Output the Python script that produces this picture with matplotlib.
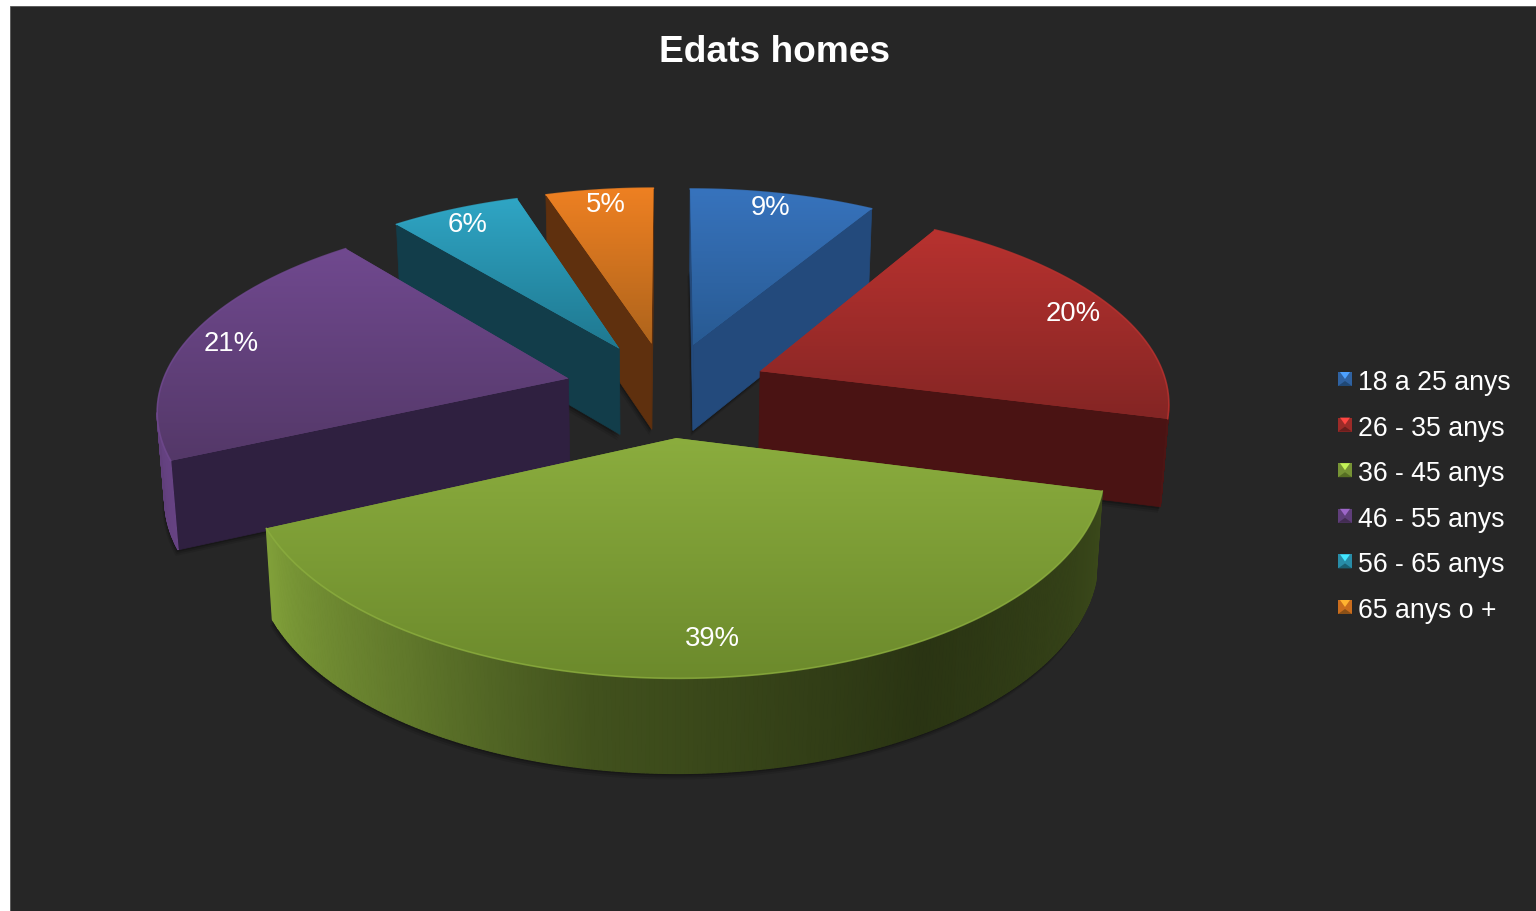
import numpy as np
import matplotlib
matplotlib.use("Agg")
import matplotlib.pyplot as plt
from matplotlib.patches import Polygon, Rectangle
from matplotlib.colors import LinearSegmentedColormap, to_rgb

# ---------- data ----------
categories = ["18 a 25 anys", "26 - 35 anys", "36 - 45 anys",
              "46 - 55 anys", "56 - 65 anys", "65 anys o +"]
values = [8.6, 20.4, 39.2, 20.8, 6.0, 5.0]
title = "Edats homes"

# ---------- styles ----------
top_light = ["#3773bd", "#b8322f", "#8bad3e", "#70498f", "#2fa5c4", "#ee8022"]
top_dark = ["#285a92", "#842524", "#6c8a2c", "#543868", "#1f7890", "#ae641c"]
wall_col = ["#234a7c", "#4a1313", "#4a1313", "#2f2040", "#123d4a", "#5f300e"]
label_nudge_x = [-2, 8, -2, -6, -7, 0]
label_nudge_y = [-5, 0, -4, 0, -2, -4]
BG = "#262626"

W, H = 1536, 912
CX, CY = 667.0, 390.0      # pie centre on screen
BX, AY = 408.0, 190.0      # projected radii
P = 0.144                  # perspective strength
EXPL = 0.25                # explode fraction
DEPTH = 87.0               # extrusion


def project(x, y):
    x, y = np.asarray(x, float), np.asarray(y, float)
    s = 1.0 / (1.0 - P * y)
    return CX + BX * x * s, CY + AY * y * s, s


def bottom(px, s):
    return CX + (px - CX) * 0.985, DEPTH * s ** 0.45


fig = plt.figure(figsize=(W / 100, H / 100), dpi=100, facecolor="white")
ax = fig.add_axes([0, 0, 1, 1])
ax.set_xlim(0, W)
ax.set_ylim(H, 0)
ax.axis("off")
ax.add_patch(Rectangle((10, 7), W, H, fc=BG, ec="#555555", lw=0.6, zorder=0))

z = [1]


def nz():
    z[0] += 1
    return z[0]


def grad_fill(xs, ys, c0, c1):
    pts = np.column_stack([xs, ys])
    zo = nz()
    cmap = LinearSegmentedColormap.from_list("g", [c0, c1])
    ymin, ymax = ys.min(), ys.max()
    patch = Polygon(pts, closed=True, fc=np.mean([to_rgb(c0), to_rgb(c1)], axis=0),
                    ec="none", transform=ax.transData, zorder=zo)
    ax.add_patch(patch)
    im = ax.imshow(np.linspace(0, 1, 256)[:, None], cmap=cmap, aspect="auto",
                   extent=(xs.min(), xs.max(), ymax, ymin), origin="upper",
                   interpolation="bilinear", zorder=nz())
    im.set_clip_path(patch)
    ax.set_xlim(0, W)
    ax.set_ylim(H, 0)


def shade_rim(a):
    return np.interp(a, [105, 150, 190, 215, 245, 270, 360],
                     [0.42, 0.30, 0.47, 0.70, 0.92, 0.82, 0.82])


fr = np.array(values, float) / sum(values)
ends = np.cumsum(fr) * 360.0
starts = ends - fr * 360.0
mids = (starts + ends) / 2
front_order = np.argsort(-np.cos(np.radians(mids)))  # back to front

for i in front_order:
    a0, a1, m = starts[i], ends[i], mids[i]
    ox, oy = EXPL * np.sin(np.radians(m)), -EXPL * np.cos(np.radians(m))
    ang = np.linspace(a0, a1, max(int(a1 - a0) * 2, 12))
    ux = ox + np.sin(np.radians(ang))
    uy = oy - np.cos(np.radians(ang))
    ax_, ay_, as_ = project(ox, oy)
    px, py, ps = project(ux, uy)
    mx, my, _ = project(ox + 0.6 * np.sin(np.radians(m)), oy - 0.6 * np.cos(np.radians(m)))

    bx, dp = bottom(px, ps)
    abx, adp = bottom(ax_, as_)

    # soft ground shadow
    sil_x = np.concatenate([[abx], bx])
    sil_y = np.concatenate([[ay_ + adp], py + dp])
    sz = nz()
    for off, al in [(6, 0.10), (4, 0.14), (2, 0.20)]:
        ax.add_patch(Polygon(np.column_stack([sil_x - off * 0.4, sil_y + off]),
                             fc="#000000", ec="none", alpha=al, zorder=sz))

    # cut faces that look towards the viewer
    for px_e, py_e, s_e, b_e, d_e in [(px[0], py[0], ps[0], bx[0], dp[0]),
                                      (px[-1], py[-1], ps[-1], bx[-1], dp[-1])]:
        ex, ey = px_e - ax_, py_e - ay_
        c_in = ex * (my - ay_) - ey * (mx - ax_)
        c_dn = ex
        if c_in * c_dn < 0:
            ax.add_patch(Polygon([(ax_, ay_), (px_e, py_e), (b_e, py_e + d_e),
                                  (abx, ay_ + adp)], fc=wall_col[i], ec=wall_col[i],
                                 lw=0.5, zorder=nz()))

    # outer rim, one facet per step, only where it faces the viewer
    rz = nz()
    base = np.array(to_rgb(top_light[i]))
    for k in range(len(ang) - 1):
        if px[k + 1] < px[k]:
            col = np.clip(base * shade_rim((ang[k] + ang[k + 1]) / 2), 0, 1)
            ax.add_patch(Polygon([(px[k], py[k]), (px[k + 1], py[k + 1]),
                                  (bx[k + 1], py[k + 1] + dp[k + 1]),
                                  (bx[k], py[k] + dp[k])],
                                 fc=col, ec=col, lw=0.9, zorder=rz))

    # top face
    tx = np.concatenate([[ax_], px])
    ty = np.concatenate([[ay_], py])
    grad_fill(tx, ty, top_light[i], top_dark[i])
    ax.plot(px, py, color=top_light[i], lw=1.2, alpha=0.8, zorder=nz(),
            solid_capstyle="round")

# percentage labels
LAB = 0.87
for i in range(len(values)):
    t = np.radians(mids[i])
    lx, ly, _ = project((EXPL + LAB) * np.sin(t), -(EXPL + LAB) * np.cos(t))
    ax.text(lx + label_nudge_x[i], ly + label_nudge_y[i], f"{round(values[i])}%", color="white",
            fontsize=19.8, ha="center", va="center", family="Liberation Sans", zorder=500)

ax.text(774.5, 52, title, color="white", fontsize=26.7, fontweight="bold", ha="center",
        va="center", family="Liberation Sans", zorder=500)

# legend
leg_y = np.linspace(381, 609, len(categories))
for i, (name, y) in enumerate(zip(categories, leg_y)):
    x0, x1, y0, y1 = 1338, 1352, y - 8, y + 6
    xc, yc = (x0 + x1) / 2, (y0 + y1) / 2
    light = np.array(to_rgb(top_light[i]))
    dark = np.array(to_rgb(top_dark[i])) * 0.8
    ax.add_patch(Rectangle((x0, y0), x1 - x0, y1 - y0, fc=light * 0.85, ec="none", zorder=500))
    ax.add_patch(Polygon([(x0, y1), (x1, y1), (xc, yc + 2)], fc=dark, ec="none", zorder=501))
    ax.add_patch(Polygon([(x0 + 2, y0), (x1 - 2, y0), (xc, yc)],
                         fc=np.clip(light * 1.4, 0, 1), ec="none", zorder=501))
    ax.text(1358, y + 2, name, color="white", fontsize=19.2, ha="left", va="center",
            family="Liberation Sans", zorder=500)

fig.savefig("out.png", dpi=100, facecolor="white")
